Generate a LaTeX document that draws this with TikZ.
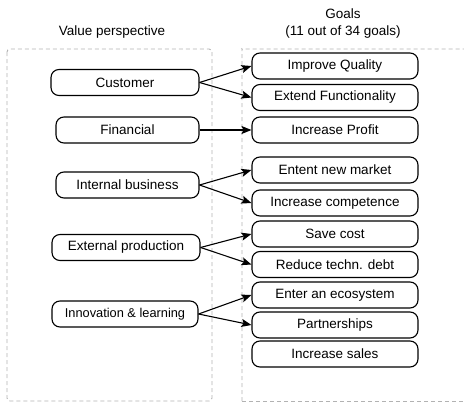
\documentclass[tikz,border=0pt]{standalone}
\usepackage{fontspec}
\setmainfont{Liberation Sans}
\usetikzlibrary{arrows.meta}
\begin{document}
\begin{tikzpicture}[x=1pt,y=-1pt,
  grp/.style={draw=black!30, line width=0.9pt, dash pattern=on 4pt off 3pt, rounded corners=3pt},
  lbox/.style={draw, line width=1.1pt, rounded corners=8pt, minimum height=26pt, inner sep=0pt, font=\fontsize{13.5}{15}\selectfont},
  gbox/.style={lbox, minimum width=166pt},
  conn/.style={line width=1.1pt, -{Stealth[length=10pt,width=8pt,inset=2pt]}},
  ttl/.style={font=\fontsize{13.5}{15}\selectfont, inner sep=0pt}]
\useasboundingbox (0,0) rectangle (464,402);
\draw[grp] (7,49) rectangle (212,401);
\draw[grp] (242,401) -- (242,52) arc[start angle=180,end angle=90,radius=3pt] -- (470,49);
\draw[grp] (242,401) -- (470,401);
\node[ttl] (tv) at (112,32) {Value perspective};
\node[ttl] (tg) at (343,14) {Goals};
\node[ttl] (tg2) at (343,32) {(11 out of 34 goals)};
% left
\node[lbox, minimum width=148pt] (cus) at (125,82.5) {Customer};
\node[lbox, minimum width=143pt] (fin) at (127.5,130) {Financial};
\node[lbox, minimum width=143pt] (int) at (127.5,185) {Internal business};
\node[lbox, minimum width=148pt] (ext) at (126,247.5) {External production};
\node[lbox, minimum width=146pt, font=\fontsize{12.8}{15}\selectfont] (inn) at (125,314) {Innovation \& learning};
% right
\node[gbox] (g1) at (335,66) {Improve Quality};
\node[gbox] (g2) at (335,97.5) {Extend Functionality};
\node[gbox] (g3) at (335,130) {Increase Profit};
\node[gbox] (g4) at (335,170) {Entent new market};
\node[gbox] (g5) at (335,203) {Increase competence};
\node[gbox] (g6) at (335,234) {Save cost};
\node[gbox] (g7) at (335,264.5) {Reduce techn. debt};
\node[gbox] (g8) at (335,295) {Enter an ecosystem};
\node[gbox] (g9) at (335,325) {Partnerships};
\node[gbox] (g10) at (335,354) {Increase sales};
% connectors
\draw[conn] (cus.east) -- (g1.west);
\draw[conn] (cus.east) -- (g2.west);
\draw[conn] (fin.east) -- (g3.west);
\draw[conn] (int.east) -- (g4.west);
\draw[conn] (int.east) -- (g5.west);
\draw[conn] (ext.east) -- (g6.west);
\draw[conn] (ext.east) -- (g7.west);
\draw[conn] (inn.east) -- (g8.west);
\draw[conn] (inn.east) -- (g9.west);
\end{tikzpicture}
\end{document}
